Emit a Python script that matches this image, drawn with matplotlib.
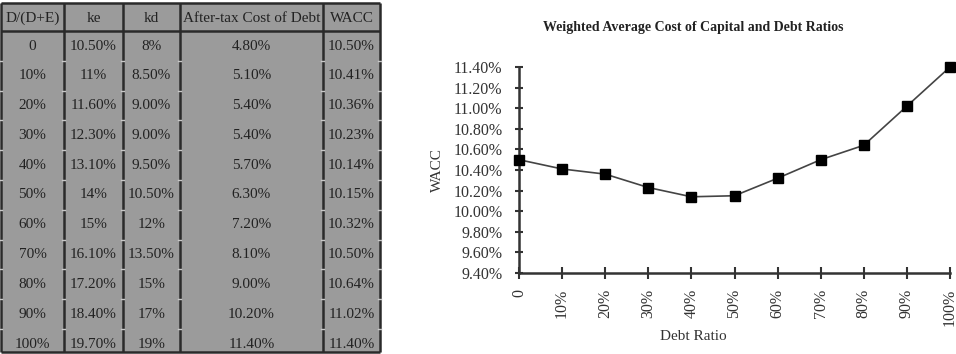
import numpy as np
import matplotlib.pyplot as plt

plt.rcParams['font.family'] = ['Liberation Serif', 'DejaVu Serif']

# table contents
headers = ['D/(D+E)', 'ke', 'kd', 'After-tax Cost of Debt', 'WACC']
debt_ratio = ['0', '10%', '20%', '30%', '40%', '50%', '60%', '70%', '80%', '90%', '100%']
ke = ['10.50%', '11%', '11.60%', '12.30%', '13.10%', '14%', '15%', '16.10%', '17.20%', '18.40%', '19.70%']
kd = ['8%', '8.50%', '9.00%', '9.00%', '9.50%', '10.50%', '12%', '13.50%', '15%', '17%', '19%']
after_tax = ['4.80%', '5.10%', '5.40%', '5.40%', '5.70%', '6.30%', '7.20%', '8.10%', '9.00%', '10.20%', '11.40%']
wacc = [10.50, 10.41, 10.36, 10.23, 10.14, 10.15, 10.32, 10.50, 10.64, 11.02, 11.40]

W, H = 956, 354
fig = plt.figure(figsize=(W / 100, H / 100), dpi=100)

# ---- table drawn in a pixel-coordinate axes ----
tab = fig.add_axes([0, 0, 1, 1])
tab.set_xlim(0, W)
tab.set_ylim(H, 0)
tab.axis('off')

col_edges = [1, 64, 123, 180, 323, 380]
top, head_bot, bottom = 3, 31, 352
row_h = 29.8
cell_grey = '#9b9b9b'
line_col = '#2a2a2a'

tab.add_patch(plt.Rectangle((col_edges[0], top), col_edges[-1] - col_edges[0], bottom - top,
                            facecolor=cell_grey, edgecolor='none'))
for xe in col_edges:
    tab.plot([xe, xe], [top, bottom], color=line_col, lw=1.8, solid_capstyle='butt')
for ye in [top, head_bot, bottom]:
    tab.plot([col_edges[0], col_edges[-1]], [ye, ye], color=line_col, lw=1.8, solid_capstyle='butt')

# faint row separators at column lines
for r in range(1, len(debt_ratio)):
    ye = head_bot + r * row_h
    for xe in col_edges:
        tab.plot([xe - 1.5, xe + 1.5], [ye, ye], color='#c8c8c8', lw=1)

for c, h in enumerate(headers):
    xc = (col_edges[c] + col_edges[c + 1]) / 2
    tab.text(xc, (top + head_bot) / 2 + 1, h, ha='center', va='center', fontsize=11, color='#222222')

columns = [debt_ratio, ke, kd, after_tax, ['%.2f%%' % v for v in wacc]]
for c, col in enumerate(columns):
    xc = (col_edges[c] + col_edges[c + 1]) / 2
    for r, val in enumerate(col):
        yc = head_bot + 15 + r * row_h
        tab.text(xc, yc, val, ha='center', va='center', fontsize=11, color='#222222')

# ---- WACC chart ----
x0, x1, y_top, y_bot = 519, 950, 67, 273
ax = fig.add_axes([x0 / W, 1 - y_bot / H, (x1 - x0) / W, (y_bot - y_top) / H])
x = np.arange(len(debt_ratio))
ax.plot(x, wacc, color='#444444', lw=1.2, marker='s', ms=6.5,
        markerfacecolor='black', markeredgecolor='black', clip_on=False, zorder=3)
ax.set_xlim(0, len(debt_ratio) - 1)
ax.set_ylim(9.4, 11.4)
yt = np.arange(9.4, 11.41, 0.2)
ax.set_yticks(yt)
ax.set_yticklabels(['%.2f%%' % v for v in yt], fontsize=11.5, color='#333333')
ax.set_xticks(x)
ax.set_xticklabels(debt_ratio, rotation=90, fontsize=11.5, color='#333333')
for s in ['top', 'right']:
    ax.spines[s].set_visible(False)
for s in ['left', 'bottom']:
    ax.spines[s].set_color('#333333')
    ax.spines[s].set_linewidth(1.8)
ax.tick_params(axis='y', direction='inout', length=6, width=1.5, color='#333333', pad=9)
ax.tick_params(axis='x', direction='inout', length=9, width=1.5, color='#333333', pad=7)
ax.patch.set_alpha(0)

fig.text(693 / W, 1 - 27 / H, 'Weighted Average Cost of Capital and Debt Ratios',
         ha='center', va='center', fontsize=10, fontweight='bold', color='#222222')
fig.text(693 / W, 1 - 336 / H, 'Debt Ratio', ha='center', va='center', fontsize=11, color='#333333')
fig.text(437 / W, 1 - 170 / H, 'WACC', ha='center', va='center', rotation=90, fontsize=11, color='#333333')

fig.savefig('out.png', dpi=100)
